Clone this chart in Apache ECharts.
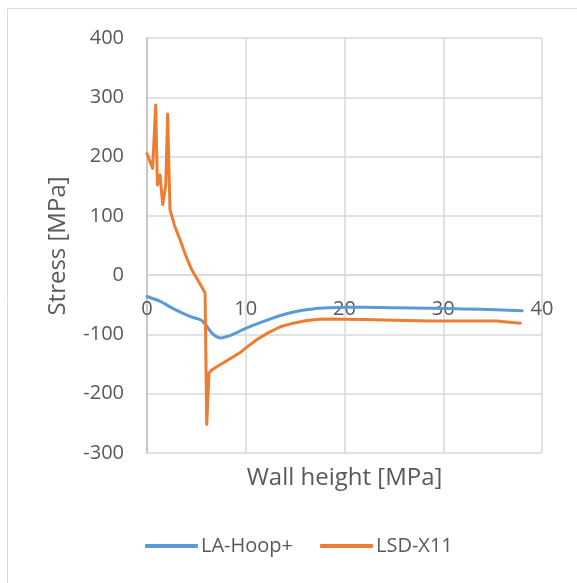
<!DOCTYPE html>
<html>
<head>
<meta charset="utf-8">
<script src="https://cdn.jsdelivr.net/npm/echarts@6/dist/echarts.min.js"></script>
<style>
  html, body { margin: 0; padding: 0; background: #ffffff; }
  #chart { width: 577px; height: 583px; }
</style>
</head>
<body>
<div id="chart"></div>
<script>
// Wall height positions and stress values for each profile
const hoopX = [0, 1.3, 2.7, 4.4, 5.5, 6.0, 6.7, 7.5, 8.4, 9.2, 10.1, 11.0, 11.8, 13.5, 15.2, 16.8, 18.5, 20, 22, 25, 28.7, 32, 35.4, 38];
const hoopY = [-36, -44, -57, -70, -76, -85, -100, -106, -102, -96, -89, -83, -78, -68, -61, -57, -55, -54, -54, -55, -56, -57, -58.5, -60];

const lsdX = [0, 0.57, 0.88, 1.05, 1.32, 1.59, 1.9, 2.09, 2.33, 2.8, 3.34, 3.9, 4.53, 5.2, 5.88, 6.05, 6.28, 6.55, 7.4, 8.4, 9.4, 10.3, 11.1, 12.3, 13.5, 14.8, 16.2, 17.5, 18.5, 20, 22, 25, 28.7, 32, 35.4, 37.8];
const lsdY = [205, 180, 287, 152, 169, 119, 152, 272, 110, 83, 60, 34, 9, -10, -30, -252, -165, -160, -151, -141, -131, -119, -109, -97, -87, -81, -76.5, -74.5, -74, -74.5, -75, -76, -77.5, -77.5, -77.5, -81];

const seriesNames = ['LA-Hoop+', 'LSD-X11'];
const xTitle = 'Wall height [MPa]';
const yTitle = 'Stress [MPa]';

const yMin = -300, yMax = 400;
const plotTop = 38, plotBottom = 130, chartHeight = 583;

const pairs = (xs, ys) => xs.map((x, i) => [x, ys[i]]);

const font = '"Open Sans", "Noto Sans", sans-serif';
const textColor = '#595959';

// The horizontal axis crosses the vertical one at stress 0
const plotHeight = chartHeight - plotTop - plotBottom;
const zeroShift = -plotHeight * (0 - yMin) / (yMax - yMin);

const chart = echarts.init(document.getElementById('chart'), null, { renderer: 'canvas' });
chart.setOption({
  animation: false,
  backgroundColor: '#ffffff',
  color: ['#5B9BD5', '#ED7D31'],
  grid: { left: 147, right: 35, top: plotTop, bottom: plotBottom, containLabel: false },
  xAxis: {
    type: 'value',
    min: 0, max: 40, interval: 10,
    offset: zeroShift,
    axisLine: { show: true, onZero: false, lineStyle: { color: '#d9d9d9', width: 1.5 } },
    axisTick: { show: false },
    axisLabel: { color: textColor, fontSize: 20, fontFamily: font, margin: 24 },
    splitLine: { show: true, lineStyle: { color: '#d9d9d9', width: 1.5 } }
  },
  yAxis: {
    type: 'value',
    min: yMin, max: yMax, interval: 100,
    axisLine: { show: true, onZero: false, lineStyle: { color: '#bfbfbf', width: 1.5 } },
    axisTick: { show: false },
    axisLabel: { color: textColor, fontSize: 20, fontFamily: font, margin: 23 },
    splitLine: { show: true, lineStyle: { color: '#d9d9d9', width: 1.5 } }
  },
  legend: {
    left: 140, top: 531,
    icon: 'roundRect',
    itemWidth: 53, itemHeight: 4, itemGap: 27,
    textStyle: { color: textColor, fontSize: 20, fontFamily: font, padding: [0, 0, 0, -2] },
    data: seriesNames
  },
  series: [
    {
      name: seriesNames[0], type: 'line', showSymbol: false, symbol: 'none',
      smooth: 0.3,
      data: pairs(hoopX, hoopY),
      lineStyle: { width: 3, cap: 'round', join: 'round' }
    },
    {
      name: seriesNames[1], type: 'line', showSymbol: false, symbol: 'none',
      data: pairs(lsdX, lsdY),
      lineStyle: { width: 3, cap: 'round', join: 'round' }
    }
  ],
  graphic: [
    {
      type: 'rect', silent: true, z: -10,
      shape: { x: 7.5, y: 8.5, width: 700, height: 700 },
      style: { fill: 'none', stroke: '#d9d9d9', lineWidth: 1 }
    },
    {
      type: 'text', x: 344.5, y: 478,
      style: { text: xTitle, fill: textColor, font: '24px ' + font, textAlign: 'center', textVerticalAlign: 'middle' }
    },
    {
      type: 'text', x: 58.5, y: 246, rotation: Math.PI / 2,
      style: { text: yTitle, fill: textColor, font: '24px ' + font, textAlign: 'center', textVerticalAlign: 'middle' }
    }
  ]
});
</script>
</body>
</html>
